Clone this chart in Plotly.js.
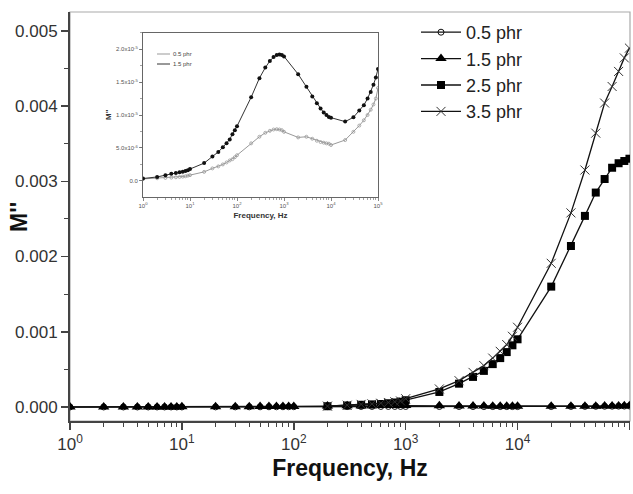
<!DOCTYPE html>
<html><head><meta charset="utf-8">
<script src="https://cdn.plot.ly/plotly-3.0.1.min.js"></script>
<style>html,body{margin:0;padding:0;background:#fff}#c{width:633px;height:494px}</style>
</head><body><div id="c"></div>
<script>
// Frequencies (Hz)
const freqAll = [1,2,3,4,5,6,7,8,9,10,20,30,40,50,60,70,80,90,100,200,300,400,500,600,700,800,900,1000,2000,3000,4000,5000,6000,7000,8000,9000,10000,20000,30000,40000,50000,60000,70000,80000,90000,100000];
const freqHigh = [200,300,400,500,600,700,800,900,1000,2000,3000,4000,5000,6000,7000,8000,9000,10000,20000,30000,40000,50000,60000,70000,80000,90000,100000];
// M'' in units of 1e-5 (inset data, 0.5 and 1.5 phr)
const m05 = [0.03,0.04,0.045,0.05,0.055,0.06,0.065,0.07,0.08,0.087,0.137,0.19,0.22,0.25,0.28,0.31,0.33,0.36,0.39,0.57,0.67,0.73,0.76,0.78,0.785,0.78,0.77,0.745,0.66,0.67,0.64,0.61,0.59,0.58,0.57,0.565,0.545,0.62,0.745,0.84,0.92,1.0,1.08,1.16,1.25,1.41];
const m15 = [0.036,0.06,0.087,0.11,0.12,0.13,0.14,0.15,0.16,0.18,0.27,0.37,0.44,0.51,0.57,0.63,0.71,0.77,0.83,1.27,1.56,1.72,1.82,1.88,1.91,1.92,1.91,1.89,1.62,1.43,1.28,1.18,1.10,1.04,1.00,0.97,0.96,0.90,0.965,1.07,1.15,1.25,1.35,1.46,1.57,1.70];
// M'' main plot (2.5 and 3.5 phr)
const m25 = [0.00001,0.00002,0.00003,0.000035,0.00004,0.00005,0.00006,0.00007,0.00009,0.0002,0.00031,0.0004,0.00048,0.00057,0.00065,0.00073,0.00082,0.0009,0.0016,0.00214,0.00254,0.00285,0.00303,0.00318,0.00324,0.00327,0.0033];
const m35 = [0.000012,0.000024,0.000035,0.000042,0.00005,0.00006,0.00007,0.00008,0.00011,0.00024,0.00035,0.00046,0.00055,0.00065,0.00074,0.00083,0.00094,0.00106,0.00191,0.00258,0.00315,0.00364,0.00404,0.00426,0.00446,0.00464,0.00477];
const names = ['0.5 phr','1.5 phr','2.5 phr','3.5 phr'];
const xTickVals = [1,10,100,1000,10000,100000];
const xTickText = ['10<sup>0</sup>','10<sup>1</sup>','10<sup>2</sup>','10<sup>3</sup>','10<sup>4</sup>','10<sup>5</sup>'];
const insetYVals = [0,0.5,1.0,1.5,2.0];
const insetYText = ['0.0','5.0x10<sup>-6</sup>','1.0x10<sup>-5</sup>','1.5x10<sup>-5</sup>','2.0x10<sup>-5</sup>'];

const minorVals = [];
for (let k=0;k<5;k++) for (let m=2;m<=9;m++) minorVals.push(m*Math.pow(10,k));
const scale = v => v.map(a=>a*1e-5);

const traces = [
 {x:freqAll,y:scale(m05),name:names[0],mode:'lines+markers',line:{color:'#111',width:1.3},marker:{symbol:'circle-open',size:6,color:'#111',line:{width:1}}},
 {x:freqAll,y:scale(m15),name:names[1],mode:'lines+markers',line:{color:'#111',width:1.3},marker:{symbol:'triangle-up',size:10,color:'#000'}},
 {x:freqHigh,y:m25,name:names[2],mode:'lines+markers',line:{color:'#111',width:1.3},marker:{symbol:'square',size:8,color:'#000'}},
 {x:freqHigh,y:m35,name:names[3],mode:'lines+markers',line:{color:'#111',width:1.3},marker:{symbol:'x-thin-open',size:9,color:'#333',line:{width:1,color:'#333'}}},
 {x:freqAll,y:m05,xaxis:'x2',yaxis:'y2',showlegend:false,mode:'lines+markers',line:{color:'#999',width:1},marker:{symbol:'circle-open',size:3,color:'#999',line:{width:0.8}}},
 {x:freqAll,y:m15,xaxis:'x2',yaxis:'y2',showlegend:false,mode:'lines+markers',line:{color:'#333',width:1},marker:{symbol:'circle',size:4,color:'#111'}}
];

const L = 70, R = 630, T = 12, B = 421, W = 633, H = 494;
const px = x => (x - L)/(R - L);
const py = y => (B - y)/(B - T);

const tickFont = {family:'Arial, Liberation Sans, sans-serif', size:17, color:'#333'};
const layout = {
 width:W, height:H, margin:{l:L, r:W-R, t:T, b:H-B}, paper_bgcolor:'#fff', plot_bgcolor:'#fff',
 showlegend:true,
 legend:{x:px(416), y:py(14), xanchor:'left', yanchor:'top', bgcolor:'rgba(0,0,0,0)', font:{family:'Arial, Liberation Sans, sans-serif', size:18, color:'#222'}, tracegroupgap:0, itemwidth:40},
 xaxis:{type:'log', range:[0,5.005], tickmode:'array', tickvals:xTickVals, ticktext:xTickText, ticks:'outside', ticklen:7, tickwidth:1.5, tickcolor:'#444', showline:true, linecolor:'#444', linewidth:2, showgrid:false, zeroline:false, tickfont:tickFont,
   minor:{tickmode:'array', tickvals:minorVals, ticks:'outside', ticklen:4, tickwidth:1, tickcolor:'#444', showgrid:false},
   title:{text:'<b>Frequency, Hz</b>', font:{family:'Arial, Liberation Sans, sans-serif', size:23, color:'#111'}, standoff:6}},
 yaxis:{range:[-0.000186,0.00525], tickmode:'linear', tick0:0, dtick:0.001, tickformat:'.3f', ticks:'outside', ticklen:7, tickwidth:1.5, tickcolor:'#444', showline:true, linecolor:'#444', linewidth:2, showgrid:false, zeroline:false, tickfont:tickFont,
   minor:{dtick:0.0005, ticks:'outside', ticklen:4, tickwidth:1, tickcolor:'#444', showgrid:false}},
 xaxis2:{domain:[px(143),px(378)], anchor:'y2', type:'log', range:[0,5], tickmode:'array', tickvals:xTickVals, ticktext:xTickText, ticks:'outside', ticklen:3, tickwidth:0.8, tickcolor:'#666', showline:true, linecolor:'#666', linewidth:1, mirror:true, showgrid:false, zeroline:false, tickfont:{family:'Arial, sans-serif', size:6, color:'#555'},
   minor:{tickmode:'array', tickvals:minorVals, ticks:'outside', ticklen:2, tickwidth:0.6, tickcolor:'#666', showgrid:false},
   title:{text:'<b>Frequency, Hz</b>', font:{family:'Arial, sans-serif', size:8, color:'#333'}, standoff:4}},
 yaxis2:{domain:[py(196.7),py(32.7)], anchor:'x2', range:[-0.24,2.25], tickmode:'array', tickvals:insetYVals, ticktext:insetYText, ticks:'outside', ticklen:3, tickwidth:0.8, tickcolor:'#666', showline:true, linecolor:'#666', linewidth:1, mirror:true, showgrid:false, zeroline:false, tickfont:{family:'Arial, sans-serif', size:6, color:'#555'},
   minor:{dtick:0.25, ticks:'outside', ticklen:2, tickwidth:0.6, tickcolor:'#666', showgrid:false},
   title:{text:"<b>M''</b>", font:{family:'Arial, sans-serif', size:8, color:'#333'}, standoff:3}},
 shapes:[
  {type:'rect', xref:'paper', yref:'paper', x0:0, x1:1, y0:0, y1:1, line:{color:'#aaa', width:1.2}, layer:'below'},
  // inset legend samples
  {type:'line', xref:'paper', yref:'paper', x0:px(157), x1:px(170), y0:py(54), y1:py(54), line:{color:'#999', width:1}},
  {type:'line', xref:'paper', yref:'paper', x0:px(157), x1:px(170), y0:py(64), y1:py(64), line:{color:'#333', width:1}}
 ],
 annotations:[
  {xref:'paper', yref:'paper', x:px(19), y:py(217), xanchor:'center', yanchor:'middle', textangle:-90, text:"<b>M''</b>", showarrow:false, font:{family:'Arial, Liberation Sans, sans-serif', size:23, color:'#111'}},
  {xref:'paper', yref:'paper', x:px(171), y:py(54), xanchor:'left', yanchor:'middle', text:'0.5 phr', showarrow:false, font:{family:'Arial, sans-serif', size:6, color:'#444'}},
  {xref:'paper', yref:'paper', x:px(171), y:py(64), xanchor:'left', yanchor:'middle', text:'1.5 phr', showarrow:false, font:{family:'Arial, sans-serif', size:6, color:'#444'}}
 ]
};
Plotly.newPlot('c', traces, layout, {displayModeBar:false, staticPlot:true});
</script>
</body></html>
